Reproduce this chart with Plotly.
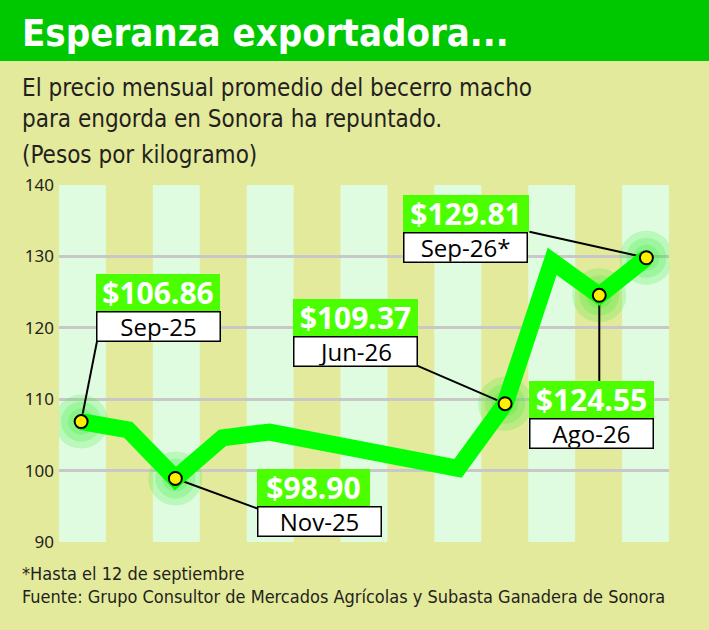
import plotly.graph_objects as go

# monthly average price, pesos per kg
months = ["Sep-25", "Oct-25", "Nov-25", "Dec-25", "Jan-26", "Feb-26", "Mar-26",
          "Apr-26", "May-26", "Jun-26", "Jul-26", "Ago-26", "Sep-26"]
prices = [106.86, 105.7, 98.90, 104.6, 105.4, 104.0, 103.1,
          101.8, 100.3, 109.37, 129.3, 124.55, 129.81]

# highlighted months and the text shown in their tags
label_idx = [0, 2, 9, 11, 12]
label_price = ["$106.86", "$98.90", "$109.37", "$124.55", "$129.81"]
label_month = ["Sep-25", "Nov-25", "Jun-26", "Ago-26", "Sep-26*"]

y_ticks = [90, 100, 110, 120, 130, 140]

BG = "#E3EA9B"
STRIPE = "#E0FCE0"
TITLE_GREEN = "#00C800"
TAG_GREEN = "#4CFF00"
LINE_GREEN = "#00FF00"
INK = "#231F20"

# plot area in page pixels
L, T, W, H = 59, 185, 610, 357


def fx(px):
    return (px - L) / W


def fy(py):
    return 1 - (py - T) / H


# tag placement relative to its point, in pixels:
# (box dx, green top dy, green width, leader end dx, leader end dy)
tag_pos = [
    (15, 148, 124, 16, 81),
    (82, 9, 113, 82, -30),
    (-212, 105, 125, -88, 38),
    (-70, -86, 125, 0, -86),
    (-243, 63, 126, -117, 26),
]

fig = go.Figure()

shapes = []
# alternating vertical stripes
for k in range(13):
    if k % 2 == 0:
        shapes.append(dict(type="rect", xref="paper", yref="paper",
                           x0=k / 13, x1=(k + 1) / 13, y0=0, y1=1,
                           fillcolor=STRIPE, line_width=0, layer="below"))

# title bar
shapes.append(dict(type="rect", xref="paper", yref="paper",
                   x0=fx(0), x1=fx(709), y0=fy(61), y1=fy(0),
                   fillcolor=TITLE_GREEN, line_width=0, layer="below"))

# halos around highlighted points
for i in label_idx:
    for r in (27, 20, 13):
        shapes.append(dict(type="circle", xref="x", yref="y",
                           xsizemode="pixel", ysizemode="pixel",
                           xanchor=i, yanchor=prices[i],
                           x0=-r, x1=r, y0=-r, y1=r,
                           fillcolor="rgba(40,235,40,0.2)", line_width=0,
                           layer="between"))

# leader lines
for i, p in zip(label_idx, tag_pos):
    shapes.append(dict(type="line", xref="x", yref="y",
                       xsizemode="pixel", ysizemode="pixel",
                       xanchor=i, yanchor=prices[i],
                       x0=0, y0=0, x1=p[3], y1=p[4],
                       line=dict(color="black", width=2), layer="between"))

fig.add_trace(go.Scatter(
    x=list(range(len(months))), y=prices, mode="lines",
    line=dict(color=LINE_GREEN, width=17), hoverinfo="skip"))

fig.add_trace(go.Scatter(
    x=label_idx, y=[prices[i] for i in label_idx], mode="markers",
    marker=dict(size=13, color="#FFF000", line=dict(color="black", width=2)),
    text=[months[i] for i in label_idx], hoverinfo="text+y"))

annotations = []
for i, pt, mt, p in zip(label_idx, label_price, label_month, tag_pos):
    dx, dy, gw = p[0], p[1], p[2]
    annotations.append(dict(
        x=i, y=prices[i], xref="x", yref="y", xanchor="left", yanchor="top",
        xshift=dx, yshift=dy, showarrow=False, text="<b>" + pt + "</b>",
        font=dict(family="Open Sans", size=30, color="white"),
        bgcolor=TAG_GREEN, borderpad=0, borderwidth=0,
        width=gw, height=37, align="center", valign="middle"))
    annotations.append(dict(
        x=i, y=prices[i], xref="x", yref="y", xanchor="left", yanchor="top",
        xshift=dx, yshift=dy - 37, showarrow=False, text=mt,
        font=dict(family="Open Sans", size=24, color="black"),
        bgcolor="white", bordercolor="black", borderpad=0, borderwidth=1.5,
        width=122, height=28, align="center", valign="middle"))

annotations += [
    dict(xref="paper", yref="paper", x=fx(20), y=fy(33), xanchor="left",
         yanchor="middle", showarrow=False, text="<b>Esperanza exportadora...</b>",
         font=dict(family="DejaVu Sans Condensed", size=38, color="white")),
    dict(xref="paper", yref="paper", x=fx(20), y=fy(104), xanchor="left",
         yanchor="middle", showarrow=False, align="left",
         text="El precio mensual promedio del becerro macho<br>"
              "para engorda en Sonora ha repuntado.",
         font=dict(family="DejaVu Sans Condensed", size=24, color=INK)),
    dict(xref="paper", yref="paper", x=fx(20), y=fy(155), xanchor="left",
         yanchor="middle", showarrow=False, text="(Pesos por kilogramo)",
         font=dict(family="DejaVu Sans Condensed", size=24, color=INK)),
    dict(xref="paper", yref="paper", x=fx(20), y=fy(585), xanchor="left",
         yanchor="middle", showarrow=False, align="left",
         text="*Hasta el 12 de septiembre<br>"
              "Fuente: Grupo Consultor de Mercados Agrícolas y Subasta Ganadera de Sonora",
         font=dict(family="DejaVu Sans Condensed", size=18, color=INK)),
]

fig.update_layout(
    width=709, height=630,
    margin=dict(l=L, r=709 - L - W, t=T, b=630 - T - H),
    paper_bgcolor=BG, plot_bgcolor=BG,
    showlegend=False,
    shapes=shapes, annotations=annotations,
    xaxis=dict(range=[-0.47, 12.48], showgrid=False, zeroline=False,
               showticklabels=False, fixedrange=True),
    yaxis=dict(range=[90, 140], tickvals=y_ticks, showgrid=True,
               gridcolor="#C8C8C8", gridwidth=2.5, zeroline=False,
               tickfont=dict(family="Noto Sans", size=17, color=INK),
               ticklabelstandoff=4, fixedrange=True),
)

# the page is photographed from its top-left corner, so drop the body margin
fig.write_html("out.html", config={"displayModeBar": False},
               post_script="document.body.style.margin='0';")
